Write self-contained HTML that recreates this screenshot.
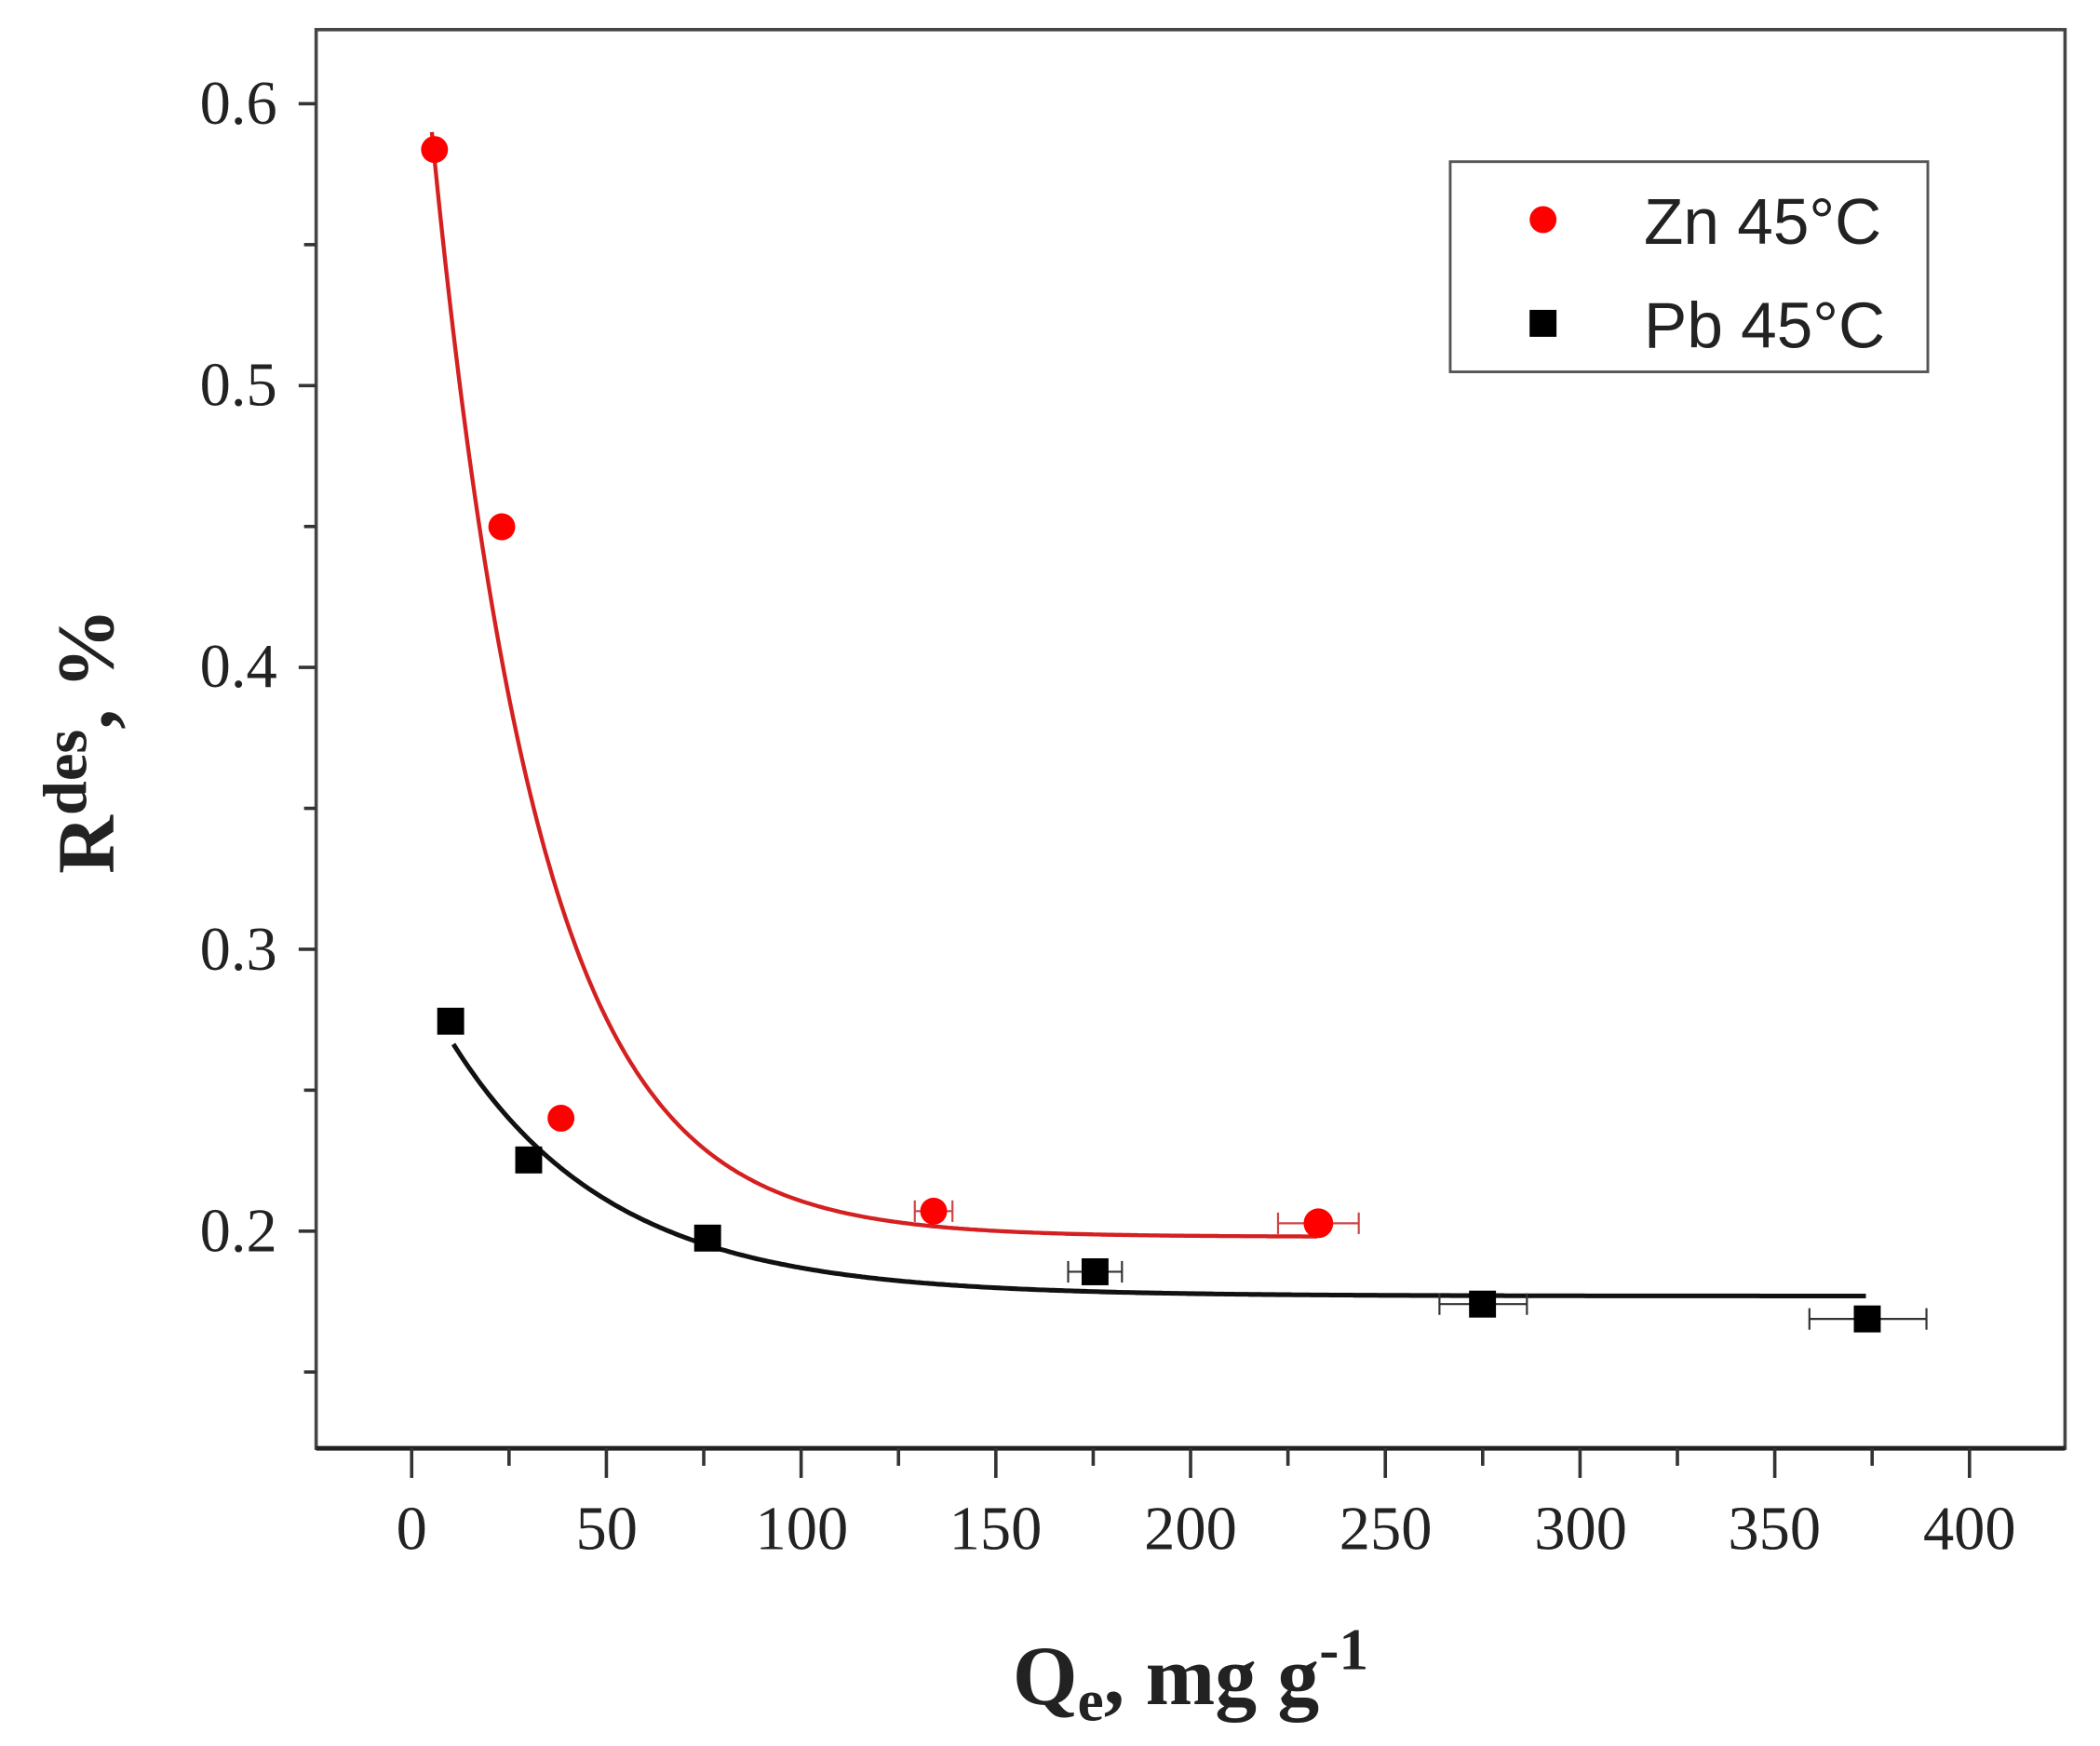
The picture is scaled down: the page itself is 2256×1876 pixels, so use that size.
<!DOCTYPE html>
<html><head><meta charset="utf-8"><style>html,body{margin:0;padding:0;background:#fff;overflow:hidden}svg{display:block}</style></head>
<body>
<svg id="s" width="2256" height="1876" viewBox="0 0 1561 1296" preserveAspectRatio="none" xmlns="http://www.w3.org/2000/svg">
<rect x="0" y="0" width="1561" height="1296" fill="#fff"/>
<rect x="235" y="22" width="1300" height="1053" fill="none" stroke="#444" stroke-width="2.5"/>
<line x1="235" y1="1075" x2="1535" y2="1075" stroke="#222" stroke-width="3.5"/>
<g id="ticks" stroke="#333" stroke-width="2.5"></g>
<g font-family="Liberation Serif, serif" font-size="46" fill="#222" text-anchor="end">
<text x="206" y="92">0.6</text><text x="206" y="301">0.5</text><text x="206" y="510">0.4</text><text x="206" y="720">0.3</text><text x="206" y="929">0.2</text>
</g>
<g font-family="Liberation Serif, serif" font-size="46" fill="#222" text-anchor="middle">
<text x="306" y="1150">0</text><text x="451" y="1150">50</text><text x="596" y="1150">100</text><text x="740" y="1150">150</text><text x="885" y="1150">200</text><text x="1030" y="1150">250</text><text x="1175" y="1150">300</text><text x="1319" y="1150">350</text><text x="1464" y="1150">400</text>
</g>
<text transform="translate(84,550) rotate(-90)" font-family="Liberation Serif, serif" font-weight="bold" font-size="60" fill="#222" text-anchor="middle">R<tspan font-size="46" dy="-20">des</tspan><tspan dy="20">, %</tspan></text>
<text x="885" y="1265" font-family="Liberation Serif, serif" font-weight="bold" font-size="62" fill="#222" text-anchor="middle">Q<tspan font-size="44" dy="12">e</tspan><tspan dy="-12">, mg g</tspan><tspan font-size="44" dy="-26">-1</tspan></text>
<path id="zc" fill="none" stroke="#d42020" stroke-width="3"/>
<path id="pc" fill="none" stroke="#111" stroke-width="3.5"/>
<g stroke="#c44" stroke-width="1.5">
<line x1="680" y1="899" x2="708" y2="899"/><line x1="680" y1="891" x2="680" y2="907"/><line x1="708" y1="891" x2="708" y2="907"/>
<line x1="950" y1="908" x2="1010" y2="908"/><line x1="950" y1="900" x2="950" y2="916"/><line x1="1010" y1="900" x2="1010" y2="916"/>
</g>
<g stroke="#333" stroke-width="1.5">
<line x1="794" y1="944" x2="834" y2="944"/><line x1="794" y1="936" x2="794" y2="952"/><line x1="834" y1="936" x2="834" y2="952"/>
<line x1="1070" y1="968" x2="1135" y2="968"/><line x1="1070" y1="960" x2="1070" y2="976"/><line x1="1135" y1="960" x2="1135" y2="976"/>
<line x1="1345" y1="979" x2="1432" y2="979"/><line x1="1345" y1="971" x2="1345" y2="987"/><line x1="1432" y1="971" x2="1432" y2="987"/>
</g>
<g fill="#f00">
<circle cx="323" cy="111" r="10"/><circle cx="373" cy="391" r="10"/><circle cx="417" cy="830" r="10"/><circle cx="694" cy="899" r="10"/><circle cx="980" cy="908" r="11"/>
</g>
<g fill="#000">
<rect x="325" y="748" width="20" height="20"/><rect x="383" y="851" width="20" height="20"/><rect x="516" y="909" width="20" height="20"/><rect x="804" y="934" width="20" height="20"/><rect x="1092" y="958" width="20" height="20"/><rect x="1378" y="969" width="20" height="20"/>
</g>
<rect x="1078" y="120" width="355" height="156" fill="#fff" stroke="#555" stroke-width="2"/>
<circle cx="1147" cy="163" r="10" fill="#f00"/>
<rect x="1137" y="230" width="20" height="20" fill="#000"/>
<g font-family="Liberation Sans, sans-serif" font-size="48" fill="#222">
<text x="1222" y="181">Zn 45°C</text><text x="1222" y="258">Pb 45°C</text>
</g>
</svg>
<script>
var t=document.getElementById('ticks'),h='';
for(var i=0;i<10;i++){var y=77+i*104.6;if(y>1070)break;var maj=i%2==0;h+='<line x1="'+(maj?222:226)+'" y1="'+y+'" x2="235" y2="'+y+'"/>';}
for(var v=-25;v<=425;v+=25){var x=306+v*2.895;if(x<236||x>1534)continue;var maj=v%50==0;h+='<line x1="'+x+'" y1="1075" x2="'+x+'" y2="'+(maj?1097:1088)+'"/>';}
t.innerHTML=h;
function curve(x0,x1,y0,A,tau,xs){var d='';for(var x=x0;x<=x1;x+=2){var y=y0-A*Math.exp(-(x-xs)/tau);d+=(d?'L':'M')+x+','+y.toFixed(1);}return d;}
document.getElementById('zc').setAttribute('d',curve(321,980,918,820,80,321));
document.getElementById('pc').setAttribute('d',curve(337,1388,962,187,118,337));
</script>
</body></html>
